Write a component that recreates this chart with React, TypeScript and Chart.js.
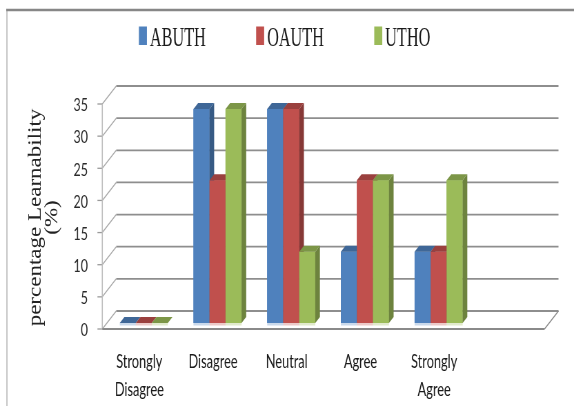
import { useEffect, useRef } from 'react';
import { Chart, registerables } from 'chart.js';

Chart.register(...registerables);

// Survey categories (the sixth slot is an empty floor position)
const categories: (string | string[])[] = [
  ['Strongly', 'Disagree'],
  'Disagree',
  'Neutral',
  'Agree',
  ['Strongly', 'Agree'],
  '',
];
const seriesNames = ['ABUTH', 'OAUTH', 'UTHO'];
const abuthValues = [0, 33.3, 33.3, 11.1, 11.1];
const oauthValues = [0, 22.2, 33.3, 22.2, 11.1];
const uthoValues = [0, 33.3, 11.1, 22.2, 22.2];
const seriesColors = ['#4F81BD', '#C0504D', '#9BBB59'];
const yTickValues = [0, 5, 10, 15, 20, 25, 30, 35];
const yAxisTitle = ['percentage Learnability', '(%)'];

// The drawing surface is laid out wider and squeezed horizontally on screen,
// giving the tall, narrow lettering of the original chart.
const VIEW_W = 574;
const VIEW_H = 406;
const CANVAS_W = 832;
const SQUEEZE = VIEW_W / CANVAS_W;

// depth of one third of the 3-D box (x, y)
const DX = 6.75;
const DY = 6;

function shade(hex: string, f: number): string {
  const n = parseInt(hex.slice(1), 16);
  const r = Math.round(((n >> 16) & 255) * f);
  const g = Math.round(((n >> 8) & 255) * f);
  const b = Math.round((n & 255) * f);
  return `rgb(${r},${g},${b})`;
}

function tint(hex: string, a: number): string {
  const n = parseInt(hex.slice(1), 16);
  return `rgba(${(n >> 16) & 255},${(n >> 8) & 255},${n & 255},${a})`;
}

function line(ctx: CanvasRenderingContext2D, x1: number, y1: number, x2: number, y2: number) {
  ctx.beginPath();
  ctx.moveTo(x1, y1);
  ctx.lineTo(x2, y2);
  ctx.stroke();
}

function poly(ctx: CanvasRenderingContext2D, pts: number[][], fill: string) {
  ctx.beginPath();
  ctx.moveTo(pts[0][0], pts[0][1]);
  for (let i = 1; i < pts.length; i++) ctx.lineTo(pts[i][0], pts[i][1]);
  ctx.closePath();
  ctx.fillStyle = fill;
  ctx.fill();
}

// White page with the outer frame
const framePlugin = {
  id: 'frame',
  beforeDraw(chart: any) {
    const { ctx, width, height } = chart;
    ctx.save();
    ctx.fillStyle = '#ffffff';
    ctx.fillRect(0, 0, width, height);
    ctx.strokeStyle = '#b4b4b4';
    ctx.lineWidth = 1.5;
    line(ctx, 10, 10, 10, height);
    ctx.strokeStyle = '#878787';
    ctx.lineWidth = 2.5;
    line(ctx, 9, 10, width, 10);
    ctx.restore();
  },
};

// Back wall, side wall, floor and the front value axis of the 3-D box
const boxPlugin = {
  id: 'box3d',
  beforeDatasetsDraw(chart: any) {
    const { ctx, chartArea: a } = chart;
    const y = chart.scales.y;
    ctx.save();
    ctx.lineCap = 'butt';
    for (const v of yTickValues) {
      const py = y.getPixelForValue(v);
      ctx.strokeStyle = '#8e8e8e';
      ctx.lineWidth = 1.8;
      line(ctx, a.left + 2 * DX, py - 2 * DY, a.right + 2 * DX, py - 2 * DY);
      ctx.strokeStyle = '#a8a8a8';
      ctx.lineWidth = 1.3;
      line(ctx, a.left - DX, py + DY, a.left + 2 * DX, py - 2 * DY);
      ctx.strokeStyle = '#9a9a9a';
      ctx.lineWidth = 1.3;
      line(ctx, a.left - DX - 7, py + DY, a.left - DX, py + DY);
    }
    const top = y.getPixelForValue(35);
    const y0 = y.getPixelForValue(0);
    ctx.strokeStyle = '#bcbcbc';
    ctx.lineWidth = 1.6;
    line(ctx, a.left - DX, top + DY, a.left - DX, y0 + DY);
    ctx.strokeStyle = '#8a8a8a';
    ctx.lineWidth = 1.8;
    line(ctx, a.left - DX, y0 + DY, a.right - DX, y0 + DY);
    ctx.lineWidth = 1.4;
    line(ctx, a.right - DX, y0 + DY, a.right + 2 * DX, y0 - 2 * DY);
    ctx.restore();
  },
  afterDatasetsDraw(chart: any) {
    const { ctx } = chart;
    ctx.save();
    chart.data.datasets.forEach((ds: any, i: number) => {
      const meta = chart.getDatasetMeta(i);
      const color = ds.backgroundColor as string;
      meta.data.forEach((el: any) => {
        const { x, y, base, width } = el.getProps(['x', 'y', 'base', 'width'], true);
        const l = x - width / 2;
        const r = x + width / 2;
        ctx.fillStyle = tint(color, 0.3);
        ctx.fillRect(l, base, width, 2.5);
        ctx.fillStyle = color;
        ctx.fillRect(l, y, width, base - y);
        poly(ctx, [[r, y], [r + DX, y - DY], [r + DX, base - DY], [r, base]], shade(color, 0.7));
        poly(ctx, [[l, y], [r, y], [r + DX, y - DY], [l + DX, y - DY]], shade(color, 0.8));
      });
    });
    ctx.restore();
  },
};

// Rotated two-line title of the value axis, centred on the front axis
const axisTitlePlugin = {
  id: 'valueAxisTitle',
  afterDraw(chart: any) {
    const { ctx, chartArea: a } = chart;
    const cy = (a.top + a.bottom) / 2 + DY + 1;
    ctx.save();
    ctx.font = '23px "Liberation Serif", "Times New Roman", serif';
    ctx.fillStyle = '#222222';
    ctx.textAlign = 'center';
    ctx.textBaseline = 'middle';
    yAxisTitle.forEach((text, i) => {
      ctx.save();
      ctx.translate(52 + i * 23.5, cy);
      ctx.rotate(-Math.PI / 2);
      ctx.scale(1, 1.22);
      ctx.fillText(text, 0, 0);
      ctx.restore();
    });
    ctx.restore();
  },
};

// Series key across the top
const keyPlugin = {
  id: 'seriesKey',
  afterDraw(chart: any) {
    const { ctx } = chart;
    const K = 0.84;
    const boxW = 11.6;
    const boxH = 18.5;
    const gap = 4.3;
    const spacing = 73;
    ctx.save();
    ctx.font = '28px "Liberation Serif", "Times New Roman", serif';
    const items = chart.data.datasets.map((ds: any) => ({
      label: ds.label as string,
      color: ds.backgroundColor as string,
      w: ctx.measureText(ds.label).width * K,
    }));
    const total =
      items.reduce((s: number, it: any) => s + boxW + gap + it.w, 0) + spacing * (items.length - 1);
    let x = chart.width * 0.4958 - total / 2;
    items.forEach((it: any) => {
      ctx.fillStyle = it.color;
      ctx.fillRect(x, 26.5, boxW, boxH);
      x += boxW + gap;
      ctx.save();
      ctx.translate(x, 45.5);
      ctx.scale(K, 1);
      ctx.fillStyle = '#1a1a1a';
      ctx.textBaseline = 'alphabetic';
      ctx.textAlign = 'left';
      ctx.fillText(it.label, 0, 0);
      ctx.restore();
      x += it.w + spacing;
    });
    ctx.restore();
  },
};

export default function App() {
  const canvasRef = useRef<HTMLCanvasElement | null>(null);

  useEffect(() => {
    const canvas = canvasRef.current;
    if (!canvas) return;
    const values = [abuthValues, oauthValues, uthoValues];
    const chart = new Chart(canvas, {
      type: 'bar',
      data: {
        labels: categories,
        datasets: seriesNames.map((name, i) => ({
          label: name,
          data: values[i],
          backgroundColor: seriesColors[i],
          borderWidth: 0,
          categoryPercentage: 0.652,
          barPercentage: 1,
        })),
      },
      options: {
        responsive: false,
        animation: false,
        devicePixelRatio: 1,
        events: [],
        layout: { padding: { left: 0, right: 36, top: 0, bottom: 0 } },
        plugins: {
          legend: { display: false },
          tooltip: { enabled: false },
          title: { display: false },
        },
        scales: {
          x: {
            grid: { display: false, drawTicks: false },
            border: { display: false },
            ticks: {
              autoSkip: false,
              maxRotation: 0,
              minRotation: 0,
              padding: 25.5,
              labelOffset: -6.5,
              color: '#1a1a1a',
              font: { family: 'Lato, "Liberation Sans", sans-serif', size: 18.5, lineHeight: 1.5 },
            },
            afterFit(scale: any) {
              scale.height = 83;
            },
          },
          y: {
            min: 0,
            max: 35,
            grid: { display: false, drawTicks: false },
            border: { display: false },
            ticks: {
              stepSize: 5,
              padding: 27.5,
              labelOffset: 7.5,
              color: '#2a2a2a',
              font: { family: 'Lato, "Liberation Sans", sans-serif', size: 18 },
            },
            afterFit(scale: any) {
              scale.width = 155;
              scale.paddingTop = 98;
            },
          },
        },
      },
      plugins: [framePlugin, boxPlugin, axisTitlePlugin, keyPlugin],
    });
    return () => chart.destroy();
  }, []);

  return (
    <div
      style={{
        position: 'absolute',
        left: 0,
        top: 0,
        width: VIEW_W,
        height: VIEW_H,
        overflow: 'hidden',
        background: '#ffffff',
      }}
    >
      <canvas
        ref={canvasRef}
        width={CANVAS_W}
        height={VIEW_H}
        style={{
          display: 'block',
          width: CANVAS_W,
          height: VIEW_H,
          transform: `scaleX(${SQUEEZE})`,
          transformOrigin: '0 0',
        }}
      />
    </div>
  );
}
